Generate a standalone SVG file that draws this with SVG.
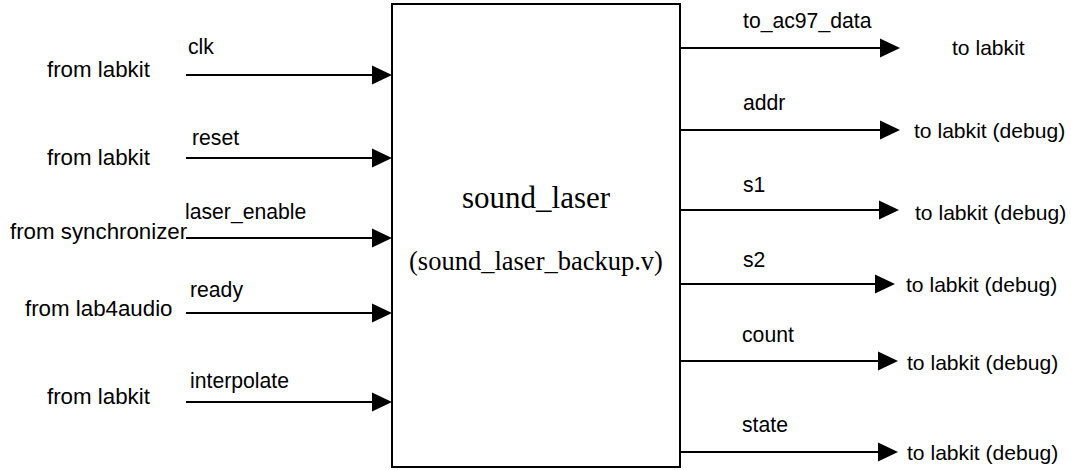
<svg xmlns="http://www.w3.org/2000/svg" width="1071" height="470" viewBox="0 0 1071 470">
  <style>
    .wire { stroke: #000; stroke-width: 2; fill: none; }
    .head { fill: #000; }
    .sig { font-family: "Liberation Sans", Arial, sans-serif; font-size: 21.2px; fill: #000; }
    .src { font-family: "Liberation Sans", Arial, sans-serif; font-size: 22.3px; fill: #000; }
    .dst { font-family: "Liberation Sans", Arial, sans-serif; font-size: 21.1px; fill: #000; }
    .title { font-family: "Liberation Serif", "Times New Roman", serif; fill: #000; text-anchor: middle; }
  </style>
  <defs>
    <polygon id="arrow" class="head" points="-20,-9.5 0,0 -20,9.5"/>
  </defs>
  <rect width="1071" height="470" fill="#fff"/>

  <!-- module block -->
  <g id="sound_laser">
    <rect x="392" y="4" width="288" height="463" fill="#fff" stroke="#000" stroke-width="2"/>
    <text class="title" x="536" y="208" font-size="31">sound_laser</text>
    <text class="title" x="536" y="270" font-size="26.5">(sound_laser_backup.v)</text>
  </g>

  <!-- port wires -->
  <g id="connectors">
    <!-- inputs -->
    <line class="wire" x1="186" y1="75" x2="374" y2="75"/><use href="#arrow" x="392" y="75"/>
    <line class="wire" x1="186" y1="158" x2="374" y2="158"/><use href="#arrow" x="392" y="158"/>
    <line class="wire" x1="186" y1="238" x2="374" y2="238"/><use href="#arrow" x="392" y="238"/>
    <line class="wire" x1="186" y1="313" x2="374" y2="313"/><use href="#arrow" x="392" y="313"/>
    <line class="wire" x1="186" y1="402" x2="374" y2="402"/><use href="#arrow" x="392" y="402"/>
    <!-- outputs -->
    <line class="wire" x1="680" y1="48" x2="882" y2="48"/><use href="#arrow" x="900" y="48"/>
    <line class="wire" x1="680" y1="130" x2="882" y2="130"/><use href="#arrow" x="900" y="130"/>
    <line class="wire" x1="680" y1="210" x2="881" y2="210"/><use href="#arrow" x="899" y="210"/>
    <line class="wire" x1="680" y1="284" x2="877" y2="284"/><use href="#arrow" x="895" y="284"/>
    <line class="wire" x1="680" y1="361" x2="880" y2="361"/><use href="#arrow" x="898" y="361"/>
    <line class="wire" x1="680" y1="452" x2="880" y2="452"/><use href="#arrow" x="898" y="452"/>
  </g>

  <!-- input ports -->
  <g id="in_clk">
    <text class="src" x="47" y="77">from labkit</text>
    <text class="sig" x="188" y="54">clk</text>
  </g>
  <g id="in_reset">
    <text class="src" x="47" y="165">from labkit</text>
    <text class="sig" x="192" y="145">reset</text>
  </g>
  <g id="in_laser_enable">
    <text class="src" x="10" y="239">from synchronizer</text>
    <text class="sig" x="185" y="219">laser_enable</text>
  </g>
  <g id="in_ready">
    <text class="src" x="25" y="316">from lab4audio</text>
    <text class="sig" x="190" y="297">ready</text>
  </g>
  <g id="in_interpolate">
    <text class="src" x="47" y="404">from labkit</text>
    <text class="sig" x="190" y="388">interpolate</text>
  </g>

  <!-- output ports -->
  <g id="out_to_ac97_data">
    <text class="sig" x="743" y="28">to_ac97_data</text>
    <text class="dst" x="952" y="55">to labkit</text>
  </g>
  <g id="out_addr">
    <text class="sig" x="743" y="110">addr</text>
    <text class="dst" x="914" y="138">to labkit (debug)</text>
  </g>
  <g id="out_s1">
    <text class="sig" x="743" y="192">s1</text>
    <text class="dst" x="915" y="220">to labkit (debug)</text>
  </g>
  <g id="out_s2">
    <text class="sig" x="743" y="267">s2</text>
    <text class="dst" x="906" y="292">to labkit (debug)</text>
  </g>
  <g id="out_count">
    <text class="sig" x="742" y="342">count</text>
    <text class="dst" x="907" y="370">to labkit (debug)</text>
  </g>
  <g id="out_state">
    <text class="sig" x="742" y="432">state</text>
    <text class="dst" x="907" y="460">to labkit (debug)</text>
  </g>
</svg>
